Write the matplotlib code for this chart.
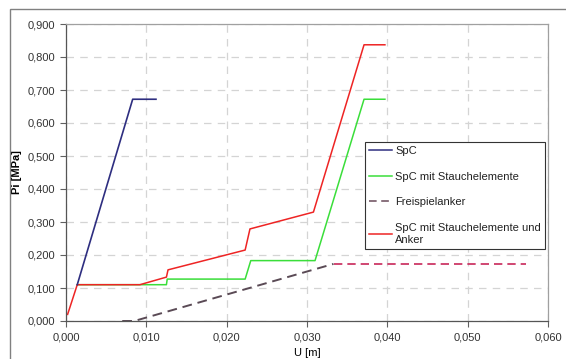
import matplotlib
matplotlib.use("Agg")
import matplotlib.pyplot as plt
from matplotlib.ticker import FuncFormatter, MultipleLocator
from matplotlib.patches import Rectangle
from matplotlib.lines import Line2D

plt.rcParams['font.family'] = ['Liberation Sans', 'DejaVu Sans']

# data
spc_x = [0.0014, 0.0083, 0.0112]
spc_y = [0.110, 0.672, 0.672]

stauch_x = [0.0014, 0.0125, 0.0126, 0.0223, 0.0230, 0.0310, 0.0371, 0.0397]
stauch_y = [0.110, 0.110, 0.127, 0.127, 0.183, 0.183, 0.672, 0.672]

frei_x = [0.0070, 0.0085, 0.0333, 0.0572]
frei_y = [0.000, 0.000, 0.173, 0.173]

anker_x = [0.0002, 0.0014, 0.0092, 0.0125, 0.0127, 0.0223, 0.0229, 0.0308, 0.0371, 0.0397]
anker_y = [0.020, 0.110, 0.110, 0.133, 0.155, 0.215, 0.279, 0.330, 0.837, 0.837]

labels = ["SpC", "SpC mit Stauchelemente", "Freispielanker",
          "SpC mit Stauchelemente und\nAnker"]

W, H = 566, 359
fig = plt.figure(figsize=(W / 100, H / 100), dpi=100)
ax = fig.add_axes([66 / W, 1 - 321 / H, (548 - 66) / W, (321 - 24) / H])

# outer chart frame
fig.add_artist(Rectangle((10 / W, -0.05), 1.2, 1 - 9 / H + 0.05, transform=fig.transFigure,
                         fill=False, edgecolor='#808080', lw=1.0))

ax.set_xlim(0, 0.060)
ax.set_ylim(0, 0.900)
ax.xaxis.set_major_locator(MultipleLocator(0.010))
ax.yaxis.set_major_locator(MultipleLocator(0.100))
fmt = FuncFormatter(lambda v, p: f"{v:.3f}".replace('.', ','))
ax.xaxis.set_major_formatter(fmt)
ax.yaxis.set_major_formatter(fmt)
ax.tick_params(axis='both', labelsize=8, length=4, width=0.8, color='#606060',
               labelcolor='#333333', pad=4)
ax.grid(True, color='#d4d4d4', linestyle=(0, (6, 5)), linewidth=0.9)
ax.set_axisbelow(True)
for s in ['top', 'right']:
    ax.spines[s].set_color('#a0a0a0')
for s in ['left', 'bottom']:
    ax.spines[s].set_color('#555555')
for s in ax.spines.values():
    s.set_linewidth(0.9)

ax.set_ylabel("Pi [MPa]", fontsize=8, fontweight='bold', labelpad=4)
ax.set_xlabel("U [m]", fontsize=8, labelpad=4)

c_spc = '#2e2e80'
c_green = '#3ade3a'
c_red = '#ee2424'
c_frei_dark = '#5a4a55'
c_frei_red = '#c8285a'

ax.plot(frei_x[2:], frei_y[2:], color=c_frei_red, lw=1.2, linestyle=(0, (5, 3)))
ax.plot(frei_x[:3], frei_y[:3], color=c_frei_dark, lw=1.4, linestyle=(0, (5, 3)))
ax.plot(stauch_x, stauch_y, color=c_green, lw=1.1)
ax.plot(anker_x, anker_y, color=c_red, lw=1.1)
ax.plot(spc_x, spc_y, color=c_spc, lw=1.2)

handles = [Line2D([], [], color=c_spc, lw=1.1),
           Line2D([], [], color=c_green, lw=1.1),
           Line2D([], [], color='#6a4a5a', lw=1.1, linestyle=(0, (5, 3))),
           Line2D([], [], color=c_red, lw=1.1)]
leg = fig.legend(handles, labels, loc='upper left',
                 bbox_to_anchor=(365 / W, 1 - 141.5 / H), borderaxespad=0,
                 fontsize=8, frameon=True, fancybox=False, edgecolor='#333333',
                 framealpha=1, handlelength=2.0, handletextpad=0.3,
                 labelspacing=1.4, borderpad=0.4)
leg.get_frame().set_linewidth(0.8)
for t in leg.get_texts():
    t.set_color('#222222')
    t.set_linespacing(1.3)

fig.savefig("out.png", dpi=100)
